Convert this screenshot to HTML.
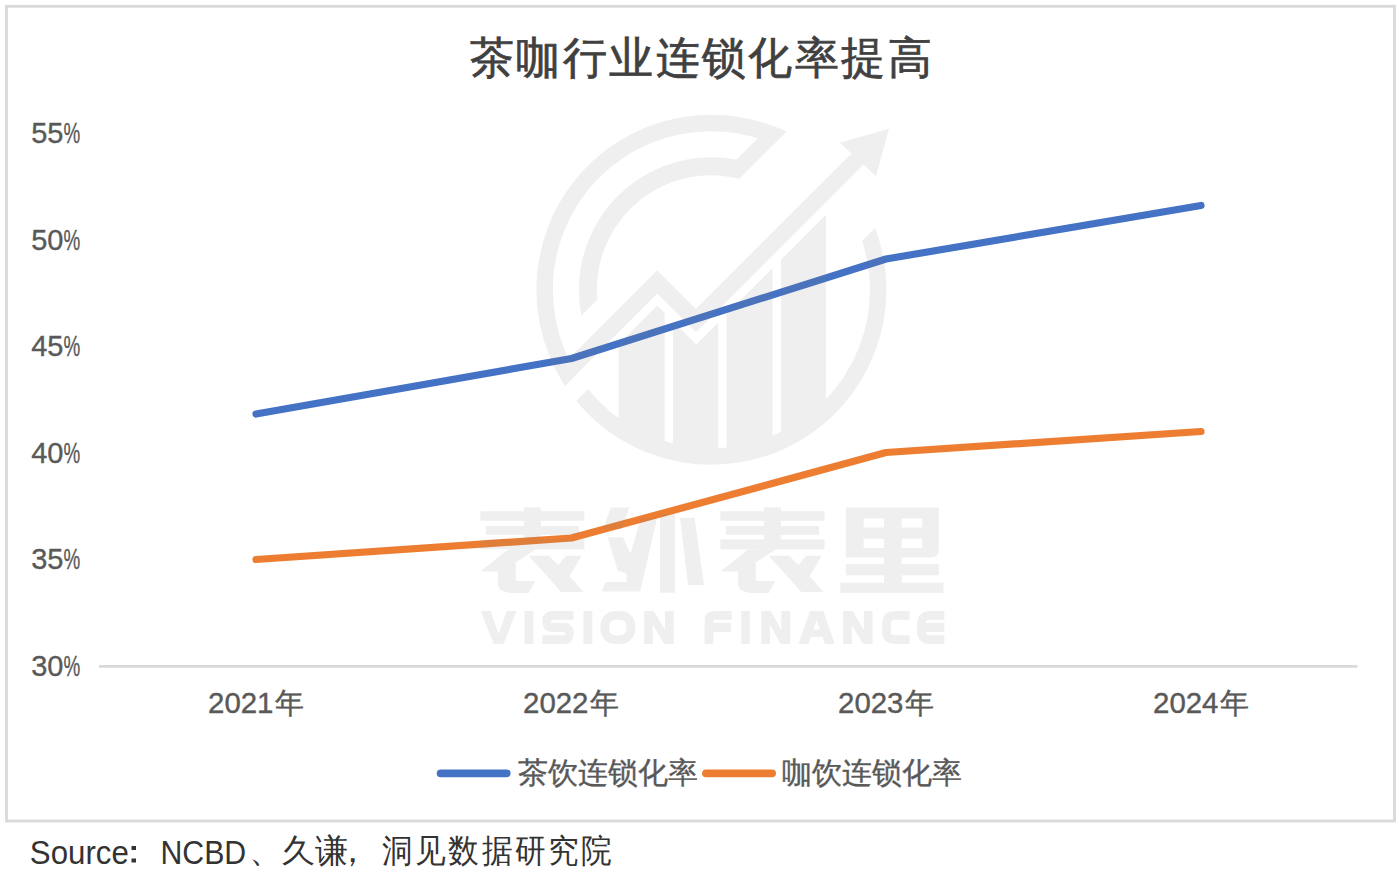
<!DOCTYPE html>
<html><head><meta charset="utf-8">
<style>
html,body{margin:0;padding:0;background:#fff;}
body{width:1399px;height:873px;overflow:hidden;position:relative;font-family:"Liberation Sans",sans-serif;}
svg{position:absolute;left:0;top:0;}
</style></head><body>
<svg width="1399" height="873" viewBox="0 0 1399 873">
<rect x="0" y="0" width="1399" height="873" fill="#fff"/>
<rect x="6.5" y="6.3" width="1388" height="814.7" fill="#fff" stroke="#d9d9d9" stroke-width="2.8"/>
<!-- title -->
<text x="702" y="73" text-anchor="middle" font-size="44" letter-spacing="2.4" fill="#404040" stroke="#404040" stroke-width="0.7">茶咖行业连锁化率提高</text>
<!-- axis -->
<line x1="99" y1="666.4" x2="1357.5" y2="666.4" stroke="#d9d9d9" stroke-width="2.8"/>
<g font-size="29" fill="#595959" stroke="#595959" stroke-width="0.35">
<text x="63.5" y="143" text-anchor="end">55</text><text transform="translate(63.6,143) scale(0.65,1)">%</text>
<text x="63.5" y="249.5" text-anchor="end">50</text><text transform="translate(63.6,249.5) scale(0.65,1)">%</text>
<text x="63.5" y="356" text-anchor="end">45</text><text transform="translate(63.6,356) scale(0.65,1)">%</text>
<text x="63.5" y="462.5" text-anchor="end">40</text><text transform="translate(63.6,462.5) scale(0.65,1)">%</text>
<text x="63.5" y="569" text-anchor="end">35</text><text transform="translate(63.6,569) scale(0.65,1)">%</text>
<text x="63.5" y="675.5" text-anchor="end">30</text><text transform="translate(63.6,675.5) scale(0.65,1)">%</text>
</g>
<g font-size="29.4" fill="#595959" text-anchor="middle" stroke="#595959" stroke-width="0.4">
<text x="256" y="713">2021<tspan dx="1.5">年</tspan></text>
<text x="571" y="713">2022<tspan dx="1.5">年</tspan></text>
<text x="886" y="713">2023<tspan dx="1.5">年</tspan></text>
<text x="1201" y="713">2024<tspan dx="1.5">年</tspan></text>
</g>
<polyline points="256,414 571.5,358.5 886,259 1201,205.5" fill="none" stroke="#4472c4" stroke-width="7.2" stroke-linecap="round" stroke-linejoin="round"/>
<polyline points="256,559.5 571.5,538 886,452.5 1201,431.5" fill="none" stroke="#ed7d31" stroke-width="7.2" stroke-linecap="round" stroke-linejoin="round"/>
<g opacity="0.123">
<!-- watermark -->
<g id="wm"><defs>
  <mask id="mOuter" maskUnits="userSpaceOnUse" x="0" y="0" width="1399" height="873">
    <rect x="0" y="0" width="1399" height="873" fill="#fff"/>
    <polygon points="868,50 1053,50 853,250 668,250" fill="#000"/>
    <polygon points="650.7,300 677,300 457,520 430.7,520" fill="#000"/>
  </mask>
  <clipPath id="cC"><polygon points="0,0 897,0 0,897"/></clipPath>
  <clipPath id="cR175"><circle cx="711.4" cy="289.7" r="175"/><rect x="760" y="0" width="639" height="260"/></clipPath>
  <clipPath id="cR159"><circle cx="711.4" cy="289.7" r="159.5"/></clipPath>
</defs>
<g fill="#808080">
  <circle cx="711.4" cy="289.7" r="166.75" fill="none" stroke="#808080" stroke-width="16.5" mask="url(#mOuter)"/>
  <circle cx="711.4" cy="289.7" r="123.5" fill="none" stroke="#808080" stroke-width="18" clip-path="url(#cC)"/>
  <polygon points="786.4,131.6 739.3,178.7 720.45,175.55 770.85,125.15"/>
  <polyline points="500,439.05 657.2,281.85 695.9,320.6 860,156.5" fill="none" stroke="#808080" stroke-width="16.5" stroke-linejoin="miter" clip-path="url(#cR175)"/>
  <polygon points="889,128.8 839.8,142.7 876,176.2"/>
  <g clip-path="url(#cR159)">
    <polygon points="618.7,344 657.2,305.5 664.7,313 664.7,470 618.7,470"/>
    <polygon points="673,321.3 696.25,344.55 718.3,322.5 718.3,470 673,470"/>
    <polygon points="726.5,314.3 772.5,268.3 772.5,470 726.5,470"/>
    <polygon points="781,259.8 826,214.8 826,470 781,470"/>
  </g>
</g>
</g>
<g id="wmtext" fill="#808080">
  <g id="biao">
    <rect x="720.4" y="511.2" width="104.1" height="9.6"/>
    <rect x="764.1" y="507.4" width="16.8" height="42"/>
    <rect x="726" y="526" width="93" height="8.8"/>
    <rect x="720.4" y="539.4" width="104.1" height="9.9"/>
    <path d="M748.3,549.3 L776.2,549.3 L755.8,562.3 L755.8,580 L758.6,580.9 L775.3,580.9 L768.8,592.9 L750.2,592.9 Q738.1,591 738.1,585.5 L738.1,571.6 L720.4,571.6 Z"/>
    <polygon points="768.8,555.8 789.2,555.8 798.5,565.1 806,555.8 821.7,555.8 809.7,576.2 823.6,592 801.3,592"/>
  </g>
  <use href="#biao" transform="translate(-240.1,0)"/>
  <!-- 外 -->
  <polygon points="611,507.4 629.4,507.4 622,529 603,529"/>
  <polygon points="607.6,537.2 623,537.2 630.5,553.8 640.8,518 657,518 640.2,591.6 601.9,591.6 605.3,581.9 626.5,581.9 626.5,573.3 617.9,571"/>
  <polygon points="660,514 675,514 675,592.7 660,592.7"/>
  <polygon points="680,517.7 694.6,517.7 704,585 688,585"/>
  <!-- 里 -->
  <path fill-rule="evenodd" d="M845.9,507.4 H938.8 V549.6 Q938.8,557.6 930.8,557.6 H845.9 Z M863.6,518.6 H884 V527.5 H863.6 Z M901.7,518.6 H922.1 V527.5 H901.7 Z M863.6,538.7 H884 V548 H863.6 Z M901.7,538.7 H922.1 V548 H901.7 Z"/>
  <rect x="884" y="557" width="17.7" height="26"/>
  <rect x="845.9" y="564.1" width="92.9" height="11.2"/>
  <rect x="840.3" y="582.7" width="103.2" height="10.2"/>
</g>
<g id="vf" fill="none" stroke="#808080" stroke-width="8.8" stroke-linejoin="miter">
  <polygon fill="#808080" stroke="none" points="480.7,611 490.5,611 498.6,634 506.7,611 516.5,611 503.5,644 493.7,644"/>
  <rect x="524.5" y="611" width="8.9" height="33" fill="#808080" stroke="none"/>
  <path d="M573.6,615.4 H552 Q546.8,615.4 546.8,620.5 V622.5 Q546.8,627.5 552,627.5 H564 Q569.2,627.5 569.2,632.5 V634.5 Q569.2,639.6 564,639.6 H542.4"/>
  <rect x="583.5" y="611" width="8.9" height="33" fill="#808080" stroke="none"/>
  <rect x="604.8" y="615.4" width="26.1" height="24.2" rx="10.5" ry="10.5"/>
  <path fill="#808080" stroke="none" d="M644.2,611 H653.7 L665.0,630 V611 H673.7 V644 H664.2 L652.9000000000001,625 V644 H644.2 Z"/>
  <path d="M731.6,615.4 H714 Q709,615.4 709,620.5 V644 M709,627.5 H731"/>
  <rect x="741.3" y="611" width="8.5" height="33" fill="#808080" stroke="none"/>
  <path fill="#808080" stroke="none" d="M761.3,611 H770.8 L781.4,630 V611 H790.1 V644 H780.6 L770.0,625 V644 H761.3 Z"/>
  <polygon fill="#808080" stroke="none" points="810,611 823.3,611 834.8,644 825,644 816.6,620 808.3,644 798.5,644"/>
  <rect x="806" y="629.5" width="21" height="7.5" fill="#808080" stroke="none"/>
  <path fill="#808080" stroke="none" d="M843.1,611 H852.6 L863.8,630 V611 H872.5 V644 H863.0 L851.8000000000001,625 V644 H843.1 Z"/>
  <path d="M909.7,615.4 H895 Q886.6,615.4 886.6,623.5 V631.5 Q886.6,639.6 895,639.6 H909.7"/>
  <path d="M944.4,615.4 H930 Q921.5,615.4 921.5,623.5 V631.5 Q921.5,639.6 930,639.6 H944.4 M921.5,627.5 H944.4"/>
</g>

</g>
<!-- legend -->
<line x1="440.6" y1="773.3" x2="506.6" y2="773.3" stroke="#4472c4" stroke-width="7.8" stroke-linecap="round"/>
<text x="518" y="783" font-size="29.5" letter-spacing="0" fill="#595959" stroke="#595959" stroke-width="0.35">茶饮连锁化率</text>
<line x1="705.9" y1="773.3" x2="772.1" y2="773.3" stroke="#ed7d31" stroke-width="7.8" stroke-linecap="round"/>
<text x="782" y="783" font-size="29.5" letter-spacing="0" fill="#595959" stroke="#595959" stroke-width="0.35">咖饮连锁化率</text>
<!-- source -->
<g fill="#333333">
<text transform="translate(29.8,863.5) scale(0.92,1)" font-size="34">Source</text>
<rect x="131.5" y="846" width="4.5" height="4" />
<rect x="131.5" y="858.5" width="4.5" height="4" />
<text transform="translate(160.5,863.5) scale(0.89,1)" font-size="34">NCBD</text>
<text x="249" y="862.3" font-size="33">、久谦</text><text x="336" y="862.3" font-size="33">，</text><text transform="translate(382,862.3) scale(0.93,1)" font-size="33" letter-spacing="2.56">洞见数据研究院</text>
</g>
</svg>
</body></html>
